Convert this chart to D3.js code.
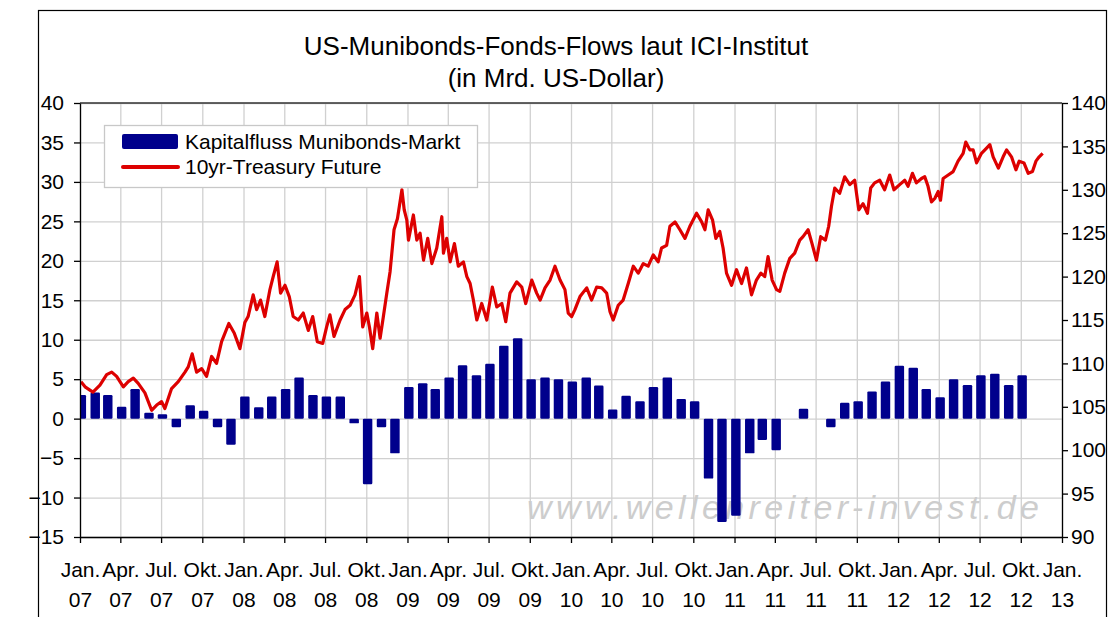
<!DOCTYPE html>
<html>
<head>
<meta charset="utf-8">
<script src="https://cdn.jsdelivr.net/npm/d3@7"></script>
<style>
  body { margin: 0; background: #fff; }
  svg { font-family: 'Liberation Sans', Arial, sans-serif; }
  .axis path, .axis line { stroke: #000; stroke-width: 1.3; }
  .axis text { font-size: 21px; fill: #000; }
  .grid line { stroke: #d0d0d0; stroke-width: 1.3; }
  .grid path { display: none; }
</style>
</head>
<body>
<div id="chart"></div>
<script>
// monthly fund flows in bn USD, Jan 2007 .. Oct 2012 (null = no bar)
const flowValues = [
  3.0, 3.3, 3.0, 1.5, 3.75, 0.75, 0.55, -1.1, 1.7, 1.0, -1.1, -3.3,
  2.8, 1.45, 2.8, 3.75, 5.2, 3.0, 2.8, 2.8, -0.6, -8.3, -1.1, -4.4,
  4.0, 4.5, 3.75, 5.2, 6.75, 5.5, 6.95, 9.25, 10.2, 5.0, 5.2, 5.0,
  4.7, 5.2, 4.2, 1.15, 2.9, 2.2, 4.0, 5.2, 2.5, 2.2, -7.6, -13.1,
  -12.3, -4.4, -2.7, -4.0, null, 1.25, null, -1.1, 2.0, 2.2, 3.45, 4.7,
  6.7, 6.45, 3.75, 2.7, 5.0, 4.25, 5.5, 5.7, 4.25, 5.5
];

// 10yr-Treasury future (time as decimal year)
const futureYears = [
  2007.006, 2007.031, 2007.079, 2007.122, 2007.163, 2007.194, 2007.224, 2007.265, 2007.295, 2007.326,
  2007.356, 2007.397, 2007.438, 2007.469, 2007.499, 2007.519, 2007.560, 2007.601, 2007.642, 2007.662,
  2007.686, 2007.713, 2007.744, 2007.774, 2007.805, 2007.835, 2007.866, 2007.910, 2007.943, 2007.978,
  2008.008, 2008.028, 2008.059, 2008.080, 2008.104, 2008.130, 2008.161, 2008.181, 2008.205, 2008.226,
  2008.253, 2008.279, 2008.303, 2008.334, 2008.364, 2008.395, 2008.422, 2008.450, 2008.483, 2008.507,
  2008.527, 2008.552, 2008.589, 2008.619, 2008.650, 2008.680, 2008.707, 2008.727, 2008.752, 2008.768,
  2008.788, 2008.813, 2008.833, 2008.853, 2008.874, 2008.894, 2008.918, 2008.939, 2008.966, 2008.980,
  2008.996, 2009.006, 2009.036, 2009.057, 2009.077, 2009.098, 2009.124, 2009.149, 2009.179, 2009.210,
  2009.220, 2009.240, 2009.261, 2009.287, 2009.311, 2009.342, 2009.363, 2009.383, 2009.403, 2009.424,
  2009.454, 2009.485, 2009.519, 2009.546, 2009.577, 2009.601, 2009.627, 2009.668, 2009.699, 2009.723,
  2009.760, 2009.790, 2009.811, 2009.841, 2009.872, 2009.902, 2009.933, 2009.963, 2009.983, 2010.004,
  2010.024, 2010.055, 2010.096, 2010.126, 2010.157, 2010.188, 2010.218, 2010.238, 2010.258, 2010.289,
  2010.319, 2010.350, 2010.381, 2010.411, 2010.442, 2010.472, 2010.503, 2010.533, 2010.554, 2010.585,
  2010.605, 2010.636, 2010.666, 2010.697, 2010.727, 2010.768, 2010.799, 2010.819, 2010.839, 2010.866,
  2010.886, 2010.910, 2010.930, 2010.951, 2010.982, 2011.012, 2011.043, 2011.073, 2011.104, 2011.134,
  2011.161, 2011.185, 2011.205, 2011.230, 2011.257, 2011.277, 2011.307, 2011.338, 2011.368, 2011.399,
  2011.419, 2011.450, 2011.474, 2011.501, 2011.527, 2011.556, 2011.576, 2011.593, 2011.613, 2011.643,
  2011.674, 2011.705, 2011.735, 2011.760, 2011.786, 2011.813, 2011.833, 2011.857, 2011.888, 2011.918,
  2011.949, 2011.975, 2012.010, 2012.041, 2012.061, 2012.088, 2012.112, 2012.143, 2012.163, 2012.183,
  2012.204, 2012.224, 2012.245, 2012.259, 2012.275, 2012.306, 2012.336, 2012.366, 2012.397, 2012.413,
  2012.438, 2012.458, 2012.479, 2012.509, 2012.540, 2012.560, 2012.580, 2012.612, 2012.641, 2012.662,
  2012.692, 2012.719, 2012.739, 2012.768, 2012.794, 2012.820, 2012.841, 2012.861, 2012.882
];
const futureValues = [
  107.9, 107.3, 106.7, 107.5, 108.7, 109.0, 108.5, 107.3, 107.9, 108.3,
  107.7, 106.6, 104.6, 105.2, 105.6, 104.8, 107.1, 107.9, 109.0, 109.6,
  111.1, 109.0, 109.4, 108.5, 110.8, 110.0, 112.5, 114.6, 113.5, 111.7,
  114.7, 115.4, 117.9, 116.2, 117.3, 115.4, 118.5, 120.0, 121.7, 118.1,
  119.0, 117.7, 115.4, 115.0, 115.8, 113.8, 115.4, 112.5, 112.3, 114.2,
  115.6, 113.1, 115.0, 116.2, 116.7, 117.9, 120.0, 114.2, 115.8, 114.2,
  111.7, 115.8, 112.9, 115.4, 118.1, 120.6, 125.4, 126.7, 130.0, 127.7,
  126.5, 124.2, 127.1, 124.2, 125.0, 121.9, 124.4, 121.5, 123.3, 126.9,
  122.7, 124.4, 121.7, 123.8, 121.2, 121.7, 120.0, 119.2, 117.3, 115.0,
  116.9, 115.0, 118.8, 116.5, 116.9, 114.8, 118.1, 119.4, 118.8, 116.9,
  119.6, 118.1, 117.3, 118.7, 119.6, 121.2, 119.6, 118.5, 115.8, 115.4,
  116.2, 117.7, 118.7, 117.3, 118.8, 118.7, 118.1, 116.0, 115.0, 116.7,
  117.3, 119.2, 121.2, 120.4, 121.5, 121.2, 122.5, 121.7, 123.3, 123.6,
  125.8, 126.3, 125.4, 124.4, 125.8, 127.3, 126.3, 125.4, 127.7, 126.5,
  124.4, 125.2, 123.3, 120.4, 119.0, 120.8, 119.2, 121.0, 117.9, 119.6,
  120.4, 120.0, 122.3, 119.6, 118.5, 118.3, 120.4, 122.1, 122.7, 124.2,
  124.6, 125.4, 123.8, 121.9, 124.6, 124.2, 125.8, 128.1, 130.2, 129.6,
  131.5, 130.6, 131.1, 127.7, 128.4, 127.3, 130.2, 130.8, 131.1, 130.0,
  131.7, 130.0, 130.6, 131.1, 130.4, 131.9, 130.8, 131.3, 131.5, 130.4,
  128.6, 129.0, 129.8, 128.8, 131.3, 131.7, 132.1, 133.3, 134.2, 135.5,
  134.6, 134.6, 133.1, 134.2, 134.8, 135.2, 133.8, 132.5, 133.8, 134.6,
  133.8, 132.3, 133.3, 133.1, 131.9, 132.1, 133.3, 133.8, 134.2
];

const leftTicks = [40, 35, 30, 25, 20, 15, 10, 5, 0, -5, -10, -15];
const rightTicks = [140, 135, 130, 125, 120, 115, 110, 105, 100, 95, 90];
const quarterLabels = ['Jan.', 'Apr.', 'Jul.', 'Okt.'];

const titleLines = ['US-Munibonds-Fonds-Flows laut ICI-Institut', '(in Mrd. US-Dollar)'];
const seriesNames = ['Kapitalfluss Munibonds-Markt', '10yr-Treasury Future'];

const yearToDate = t => {
    const y = Math.floor(t);
    const start = new Date(y, 0, 1), end = new Date(y + 1, 0, 1);
    return new Date(+start + (t - y) * (end - start));
};

class ComboChart {

    constructor(_config) {
        this.config = {
            parentElement: _config.parentElement,
            containerWidth: _config.containerWidth || 1115,
            containerHeight: _config.containerHeight || 617,
            margin: _config.margin || {top: 103, right: 53, bottom: 80, left: 80}
        };
        this.months = d3.timeMonth.range(new Date(2007, 0, 1), new Date(2012, 10, 1));
        this.flows = this.months.map((m, i) => ({date: m, value: flowValues[i]}))
            .filter(d => d.value !== null);
        this.future = futureYears.map((t, i) => ({date: yearToDate(t), value: futureValues[i]}));
        this.initVis();
    }

    initVis() {
        let vis = this;
        const c = vis.config;

        vis.width = c.containerWidth - c.margin.left - c.margin.right;
        vis.height = c.containerHeight - c.margin.top - c.margin.bottom;

        vis.svg = d3.select(c.parentElement).append('svg')
            .attr('width', c.containerWidth)
            .attr('height', c.containerHeight);

        // outer frame of the chart object
        vis.svg.append('rect')
            .attr('x', 38.5).attr('y', 10.5)
            .attr('width', 1068).attr('height', 640)
            .attr('fill', 'none')
            .attr('stroke', '#000')
            .attr('stroke-width', 1.2);

        vis.svg.selectAll('.title')
            .data(titleLines)
            .join('text')
            .attr('class', 'title')
            .attr('x', 556)
            .attr('y', (d, i) => 55 + i * 32)
            .attr('text-anchor', 'middle')
            .style('font-size', '26px')
            .text(d => d);

        vis.chart = vis.svg.append('g')
            .attr('transform', `translate(${c.margin.left},${c.margin.top})`);

        vis.xScale = d3.scaleTime()
            .domain([new Date(2007, 0, 1), new Date(2013, 0, 1)])
            .range([0, vis.width]);
        vis.yLeft = d3.scaleLinear().domain([-15, 40]).range([vis.height, 0]);
        vis.yRight = d3.scaleLinear().domain([90, 140]).range([vis.height, 0]);

        vis.quarters = d3.timeMonth.range(new Date(2007, 0, 1), new Date(2013, 1, 1), 3);

        vis.chart.append('defs').append('clipPath')
            .attr('id', 'plot-clip')
            .append('rect')
            .attr('width', vis.width)
            .attr('height', vis.height);

        vis.updateVis();
    }

    updateVis() {
        let vis = this;
        const monthW = vis.xScale(new Date(2007, 1, 1)) - vis.xScale(new Date(2007, 0, 1));
        vis.barWidth = monthW * 0.68;
        vis.renderVis();
    }

    renderVis() {
        let vis = this;

        // gridlines
        vis.chart.append('g')
            .attr('class', 'grid')
            .call(d3.axisLeft(vis.yLeft).tickValues(leftTicks).tickSize(-vis.width).tickFormat(''));
        vis.chart.append('g')
            .attr('class', 'grid')
            .attr('transform', `translate(0,${vis.height})`)
            .call(d3.axisBottom(vis.xScale).tickValues(vis.quarters).tickSize(-vis.height).tickFormat(''));

        // watermark
        vis.chart.append('text')
            .attr('x', 447)
            .attr('y', 416)
            .style('font-size', '34px')
            .style('font-style', 'italic')
            .style('letter-spacing', '4.4px')
            .attr('fill', '#cdcdcd')
            .text('www.wellenreiter-invest.de');

        const plot = vis.chart.append('g').attr('clip-path', 'url(#plot-clip)');

        plot.selectAll('.bar')
            .data(vis.flows)
            .join('rect')
            .attr('class', 'bar')
            .attr('x', d => vis.xScale(d3.timeDay.offset(d.date, 3)) - vis.barWidth / 2)
            .attr('y', d => vis.yLeft(Math.max(0, d.value)))
            .attr('width', vis.barWidth)
            .attr('height', d => Math.abs(vis.yLeft(d.value) - vis.yLeft(0)))
            .attr('rx', 1.2)
            .attr('fill', '#00008c');

        const line = d3.line()
            .x(d => vis.xScale(d.date))
            .y(d => vis.yRight(d.value));

        plot.append('path')
            .datum(vis.future)
            .attr('d', line)
            .attr('fill', 'none')
            .attr('stroke', '#dd0000')
            .attr('stroke-width', 3.2)
            .attr('stroke-linejoin', 'round');

        // top border of plot area
        vis.chart.append('line')
            .attr('x1', 0).attr('x2', vis.width)
            .attr('stroke', '#333')
            .attr('stroke-width', 1.3);

        // axes
        vis.chart.append('g')
            .attr('class', 'axis y-axis')
            .call(d3.axisLeft(vis.yLeft).tickValues(leftTicks).tickSize(6).tickSizeOuter(0).tickPadding(10));

        vis.chart.append('g')
            .attr('class', 'axis y-axis-right')
            .attr('transform', `translate(${vis.width},0)`)
            .call(d3.axisRight(vis.yRight).tickValues(rightTicks).tickSize(6).tickSizeOuter(0).tickPadding(3));

        const xAxisG = vis.chart.append('g')
            .attr('class', 'axis x-axis')
            .attr('transform', `translate(0,${vis.height})`)
            .call(d3.axisBottom(vis.xScale).tickValues(vis.quarters).tickSize(6).tickSizeOuter(0).tickFormat(''));

        const tickText = xAxisG.selectAll('.tick').append('text')
            .attr('text-anchor', 'middle');
        tickText.append('tspan')
            .attr('x', 0).attr('y', 40)
            .text(d => quarterLabels[d.getMonth() / 3]);
        tickText.append('tspan')
            .attr('x', 0).attr('y', 70)
            .text(d => d3.timeFormat('%y')(d));

        // legend
        const legend = vis.chart.append('g')
            .attr('transform', 'translate(24,22)');
        legend.append('rect')
            .attr('x', 0.5).attr('y', 0.5)
            .attr('width', 373).attr('height', 62)
            .attr('fill', '#fff')
            .attr('stroke', '#c8c8c8')
            .attr('stroke-width', 1.3);
        legend.append('rect')
            .attr('x', 18).attr('y', 9)
            .attr('width', 56).attr('height', 15)
            .attr('rx', 2)
            .attr('fill', '#00008c');
        legend.append('line')
            .attr('x1', 19).attr('x2', 74)
            .attr('y1', 42).attr('y2', 42)
            .attr('stroke', '#dd0000')
            .attr('stroke-width', 4)
            .attr('stroke-linecap', 'round');
        legend.selectAll('.legend-label')
            .data(seriesNames)
            .join('text')
            .attr('class', 'legend-label')
            .attr('x', 81)
            .attr('y', (d, i) => 24 + i * 24.5)
            .style('font-size', '21px')
            .text(d => d);
    }
}

new ComboChart({parentElement: '#chart'});
</script>
</body>
</html>
